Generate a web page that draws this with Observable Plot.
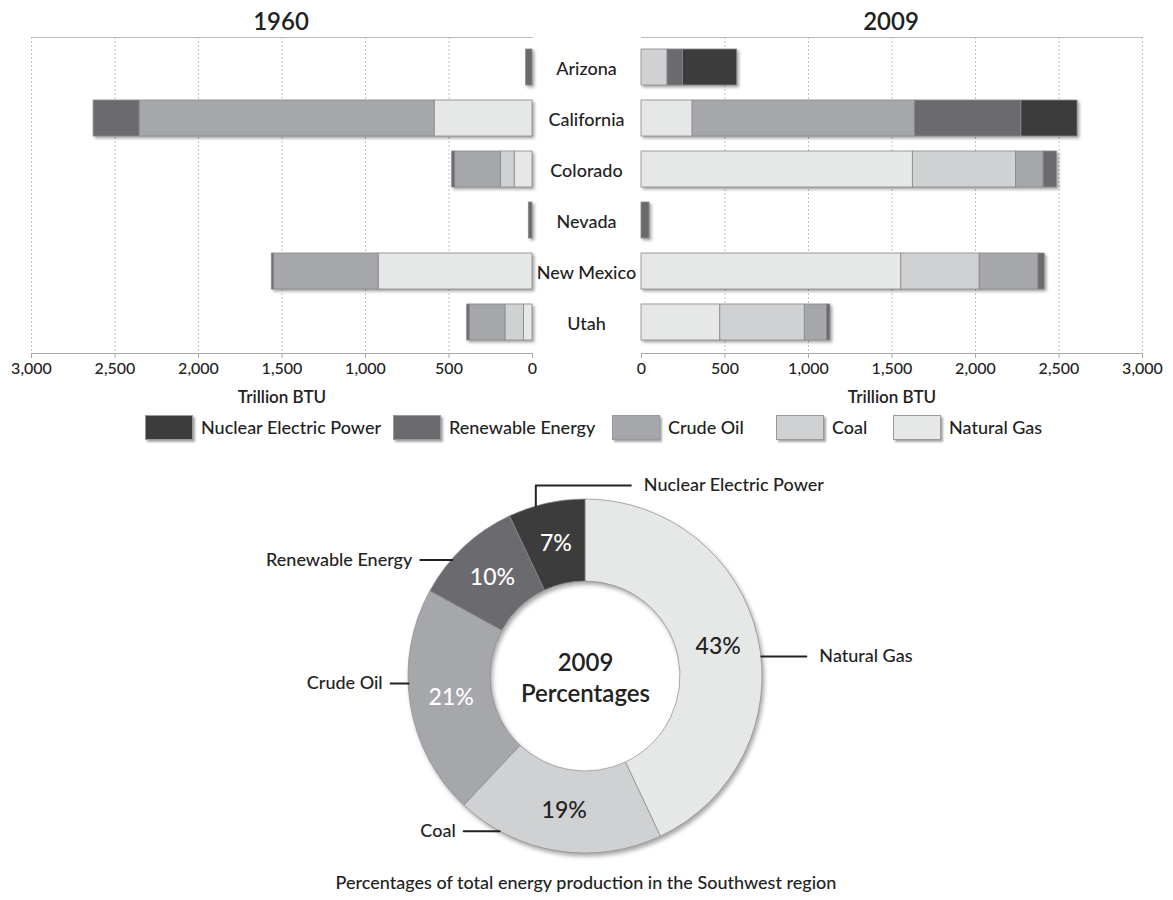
<!DOCTYPE html>
<html>
<head>
<meta charset="utf-8">
<script src="https://cdn.jsdelivr.net/npm/d3@7"></script>
<script src="https://cdn.jsdelivr.net/npm/@observablehq/plot@0.6"></script>
<style>
  body { margin: 0; background: #fff; font-family: Lato, "Noto Sans", sans-serif; color: #222; }
  #root { position: relative; width: 1173px; height: 900px; overflow: hidden; background: #fff; }
  .abs { position: absolute; }
  .title { top: 6px; font-size: 24px; line-height: 29px; font-weight: 600; transform: translateX(-50%); white-space: nowrap; }
  .legend { top: 414px; left: 0; width: 1173px; height: 26px; font-size: 18px; font-weight: 500; white-space: nowrap; }
  .legend .item { position: absolute; top: 0; display: flex; align-items: center; height: 26px; }
  .legend .sw { width: 48px; height: 25px; box-sizing: border-box; border: 1px solid #9a9a9a; box-shadow: 1.5px 1.5px 2px rgba(0,0,0,0.35); margin-right: 8px; }
  .caption { top: 871px; left: 586px; transform: translateX(-50%); font-size: 18px; line-height: 22px; font-weight: 500; white-space: nowrap; }
  g[aria-label="bar"] { filter: drop-shadow(2px 2px 1.5px rgba(0,0,0,0.35)); }
</style>
</head>
<body>
<div id="root"></div>
<script>
// ---------------- data ----------------
const states = ["Arizona", "California", "Colorado", "Nevada", "New Mexico", "Utah"];
const sources = ["Nuclear Electric Power", "Renewable Energy", "Crude Oil", "Coal", "Natural Gas"];
const stackOrder = ["Natural Gas", "Coal", "Crude Oil", "Renewable Energy", "Nuclear Electric Power"];
const xTicks = [0, 500, 1000, 1500, 2000, 2500, 3000];

// 1960, trillion BTU, per state (order as `states`)
const natGas1960  = [0, 586, 107, 0, 921, 51];
const coal1960    = [0, 0, 82, 0, 0, 111];
const crude1960   = [0, 1767, 274, 0, 628, 214];
const renew1960   = [38, 275, 18, 22, 12, 15];
const nuclear1960 = [0, 0, 0, 0, 0, 0];

// 2009, trillion BTU
const natGas2009  = [0, 306, 1625, 0, 1556, 472];
const coal2009    = [156, 0, 617, 0, 469, 506];
const crude2009   = [0, 1331, 166, 0, 352, 133];
const renew2009   = [92, 638, 79, 48, 37, 20];
const nuclear2009 = [325, 336, 0, 0, 0, 0];

// 2009 percentages (clockwise from top)
const pieSources = ["Natural Gas", "Coal", "Crude Oil", "Renewable Energy", "Nuclear Electric Power"];
const pieValues  = [43, 19, 21, 10, 7];

// ---------------- styles / layout ----------------
const colors = ["#3c3c3c", "#6b6b6f", "#a6a7aa", "#d0d1d3", "#e6e7e7"];
const colorOf = s => colors[sources.indexOf(s)];
const FONT = "Lato, 'Noto Sans', sans-serif";
const legendLeft = [145, 393, 612, 776, 893];

function longData(series) {
  const out = [];
  states.forEach((st, i) => {
    stackOrder.forEach(src => {
      const v = series[src][i];
      if (v > 0) out.push({state: st, source: src, value: v});
    });
  });
  return out;
}

const data1960 = longData({
  "Natural Gas": natGas1960, "Coal": coal1960, "Crude Oil": crude1960,
  "Renewable Energy": renew1960, "Nuclear Electric Power": nuclear1960
});
const data2009 = longData({
  "Natural Gas": natGas2009, "Coal": coal2009, "Crude Oil": crude2009,
  "Renewable Energy": renew2009, "Nuclear Electric Power": nuclear2009
});

const root = document.getElementById("root");

function panel(data, reverse, width, ml, mr, extra) {
  return Plot.plot({
    width, height: 379,
    marginTop: 7, marginBottom: 56, marginLeft: ml, marginRight: mr,
    style: {fontFamily: FONT, fontSize: "16px", color: "#222", background: "transparent", overflow: "visible"},
    x: {domain: [0, 3000], reverse, label: null},
    y: {domain: states, paddingInner: 0.29, paddingOuter: 0.207, axis: null},
    color: {domain: sources, range: colors},
    marks: [
      Plot.ruleX(xTicks.filter(d => d > 0), {stroke: "#c2c2c2", strokeDasharray: "2,2"}),
      Plot.frame({anchor: "top", stroke: "#bdbdbd"}),
      Plot.frame({anchor: "bottom", stroke: "#a8a8a8"}),
      Plot.barX(data, {x: "value", y: "state", fill: "source", stroke: "#8a8a8a", strokeWidth: 0.8}),
      Plot.axisX({ticks: xTicks, tickFormat: d3.format(","), tickSize: 5, tickPadding: 4, stroke: "#a8a8a8", fontSize: 16, fontWeight: 500, label: null}),
      Plot.text(["Trillion BTU"], {text: d => d, frameAnchor: "bottom", lineAnchor: "middle", dy: 44, fontWeight: 600, fontSize: 17}),
      ...extra
    ]
  });
}

// Left (1960)
const left = panel(data1960, true, 640, 31, 108, [
  Plot.text(states, {y: d => d, text: d => d, frameAnchor: "right", dx: 54, dy: 2, textAnchor: "middle", fontSize: 18, fontWeight: 500})
]);
left.style.position = "absolute"; left.style.left = "0px"; left.style.top = "30px";
root.appendChild(left);

// Right (2009)
const right = panel(data2009, false, 553, 21, 31, []);
right.style.position = "absolute"; right.style.left = "620px"; right.style.top = "30px";
root.appendChild(right);

// Titles
[["1960", 281], ["2009", 891]].forEach(([t, x]) => {
  const d = document.createElement("div");
  d.className = "abs title"; d.style.left = x + "px"; d.textContent = t;
  root.appendChild(d);
});

// Legend
const legend = d3.select(root).append("div").attr("class", "abs legend");
sources.forEach((s, i) => {
  const it = legend.append("div").attr("class", "item").style("left", legendLeft[i] + "px");
  it.append("div").attr("class", "sw").style("background", colors[i]);
  it.append("span").text(s);
});

// ---------------- donut ----------------
const R_OUT = 177, R_IN = 95;
const pieData = d3.pie().sort(null).value(d => d.value)(
  pieSources.map((s, i) => ({source: s, value: pieValues[i]}))
);
const arc = d3.arc().innerRadius(R_IN).outerRadius(R_OUT);
const centroid = d => { const c = arc.centroid(d); return {x: c[0], y: -c[1]}; };
const darkText = new Set(["Natural Gas", "Coal"]);

// leader-line layout (angle on ring in degrees clockwise from top, then relative steps)
const labelLayout = {
  "Natural Gas": {angle: 83.5, steps: [[45, 0]], anchor: "start"},
  "Coal": {angle: 209, steps: [[-36, 0]], anchor: "end"},
  "Crude Oil": {angle: 267.7, steps: [[-18, 0]], anchor: "end"},
  "Renewable Energy": {angle: 311.2, steps: [[-32, 0]], anchor: "end"},
  "Nuclear Electric Power": {angle: 343.7, steps: [[0, 21], [95, 0]], anchor: "start"}
};
const leaderPts = [];
const labelPts = [];
pieSources.forEach(s => {
  const L = labelLayout[s];
  const a = L.angle * Math.PI / 180;
  let x = R_OUT * Math.sin(a), y = R_OUT * Math.cos(a);
  leaderPts.push({s, x, y});
  L.steps.forEach(([dx, dy]) => { x += dx; y += dy; leaderPts.push({s, x, y}); });
  labelPts.push({s, x: x + (L.anchor === "start" ? 13 : -8), y, anchor: L.anchor});
});

const donut = Plot.plot({
  width: 1173, height: 440, margin: 0,
  style: {fontFamily: FONT, color: "#222", background: "transparent", overflow: "visible"},
  x: {domain: [-585, 588], axis: null},
  y: {domain: [-222, 218], axis: null},
  marks: [
    (index, scales) => {
      const g = d3.create("svg:g")
        .attr("transform", `translate(${scales.x(0)},${scales.y(0)})`)
        .style("filter", "drop-shadow(2px 3px 2px rgba(0,0,0,0.35))");
      g.selectAll("path").data(pieData).join("path")
        .attr("d", arc)
        .attr("fill", d => colorOf(d.data.source))
        .attr("stroke", "#8d8d8d").attr("stroke-width", 0.7);
      return g.node();
    },
    Plot.line(leaderPts, {x: "x", y: "y", z: "s", stroke: "#222", strokeWidth: 2, curve: "linear"}),
    Plot.text(labelPts.filter(d => d.anchor === "start"), {x: "x", y: "y", text: "s", textAnchor: "start", fontSize: 18, fontWeight: 500, fill: "#222"}),
    Plot.text(labelPts.filter(d => d.anchor === "end"), {x: "x", y: "y", text: "s", textAnchor: "end", fontSize: 18, fontWeight: 500, fill: "#222"}),
    Plot.text(pieData.filter(d => darkText.has(d.data.source)), {x: d => centroid(d).x, y: d => centroid(d).y, text: d => d.data.value + "%", fontSize: 23, fontWeight: 500, fill: "#222"}),
    Plot.text(pieData.filter(d => !darkText.has(d.data.source)), {x: d => centroid(d).x, y: d => centroid(d).y, text: d => d.data.value + "%", fontSize: 23, fontWeight: 500, fill: "#fff"}),
    Plot.text(["2009\nPercentages"], {x: 0, y: 0, text: d => d, fontSize: 24, fontWeight: 600, lineHeight: 1.3, fill: "#222"})
  ]
});
donut.style.position = "absolute"; donut.style.left = "0px"; donut.style.top = "458px";
root.appendChild(donut);

// Caption
const cap = document.createElement("div");
cap.className = "abs caption";
cap.textContent = "Percentages of total energy production in the Southwest region";
root.appendChild(cap);
</script>
</body>
</html>
